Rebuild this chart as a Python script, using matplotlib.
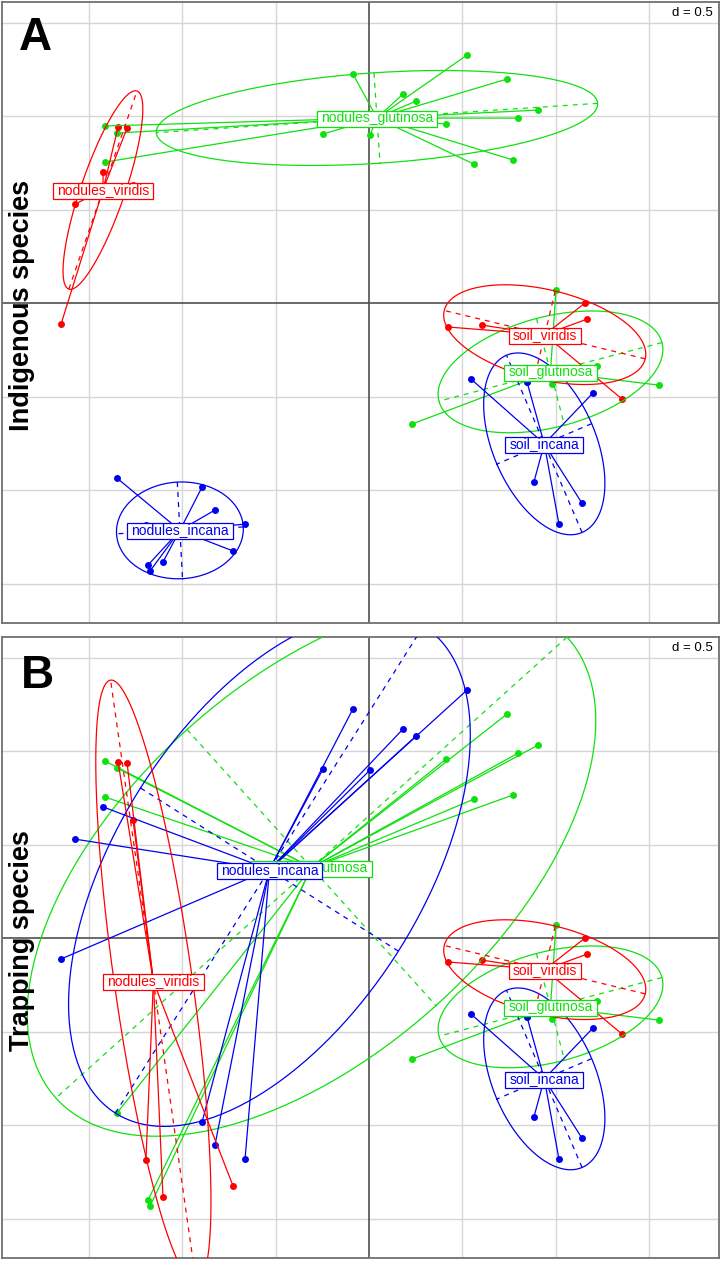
import numpy as np
import matplotlib.pyplot as plt
from matplotlib.patches import Rectangle

plt.rcParams['font.family'] = ['Liberation Sans', 'DejaVu Sans']

# coordenadas de las muestras en los ejes 1 y 2 (las mismas en los dos paneles)
coord_x = [-0.086, 0.524, 0.738, 0.182, 0.251, 0.904, 0.797, 0.412, -0.246, 0.005,
           0.561, 0.770, -1.412, -1.348, -1.412,
           -1.342, -1.294, -1.422, -1.572, -1.647, -1.262,
           -1.348, -0.893, -0.824, -0.663, -0.727, -1.102, -1.182, -1.171, -1.193,
           0.422, 0.604, 1.155, 1.166, 1.353,
           1.000, 0.230, 1.551, 0.845, 0.979, 1.219,
           0.545, 1.198, 0.882, 1.139, 1.016, 0.845]
coord_y = [1.225, 1.326, 1.198, 1.118, 1.080, 1.032, 0.989, 0.957, 0.904, 0.898,
           0.743, 0.765, 0.947, 0.909, 0.754,
           0.941, 0.936, 0.701, 0.529, -0.112, 0.631,
           -0.936, -0.984, -1.107, -1.182, -1.326, -1.385, -1.401, -1.433, -1.187,
           -0.128, -0.118, 0.000, -0.086, -0.513,
           0.070, -0.647, -0.439, -0.422, -0.433, -0.337,
           -0.406, -0.481, -0.957, -1.070, -1.182, -0.422]

# grupo de cada muestra: especie indigena (A) y especie trampa (B)
grupos_a = ['NG'] * 15 + ['NV'] * 6 + ['NI'] * 9 + ['SV'] * 5 + ['SG'] * 6 + ['SI'] * 6
grupos_b = ['NI', 'NI', 'NG', 'NI', 'NI', 'NG', 'NG', 'NG', 'NI', 'NI',
            'NG', 'NG', 'NG', 'NG', 'NG',
            'NV', 'NV', 'NI', 'NI', 'NI', 'NV',
            'NG', 'NI', 'NI', 'NI', 'NV', 'NV', 'NG', 'NG', 'NV'] \
    + ['SV'] * 5 + ['SG'] * 6 + ['SI'] * 6

niveles = ['NG', 'NI', 'NV', 'SG', 'SI', 'SV']
nombres = {'NG': 'nodules_glutinosa', 'NI': 'nodules_incana', 'NV': 'nodules_viridis',
           'SG': 'soil_glutinosa', 'SI': 'soil_incana', 'SV': 'soil_viridis'}
colores = {'NG': '#10E010', 'NI': '#0000EE', 'NV': '#FF0000',
           'SG': '#10E010', 'SI': '#0000EE', 'SV': '#FF0000'}

W, H = 721, 1261
XLIM = (-1.963, 1.872)
YLIM = (-1.711, 1.610)


def s_class(ax, grupos):
    x = np.array(coord_x)
    y = np.array(coord_y)
    g = np.array(grupos)
    ax.set_xlim(XLIM)
    ax.set_ylim(YLIM)
    ax.set_xticks([])
    ax.set_yticks([])
    for sp in ax.spines.values():
        sp.set_color('#707070')
        sp.set_linewidth(1.3)
    for v in [-1.5, -1.0, -0.5, 0.5, 1.0, 1.5]:
        ax.axvline(v, color='#d6d6d6', lw=1, zorder=0)
        ax.axhline(v, color='#d6d6d6', lw=1, zorder=0)
    ax.axvline(0, color='#505050', lw=1.2, zorder=1)
    ax.axhline(0, color='#505050', lw=1.2, zorder=1)

    centros = []
    for niv in niveles:
        col = colores[niv]
        m = g == niv
        px, py = x[m], y[m]
        cx, cy = px.mean(), py.mean()
        ax.plot(px, py, 'o', ms=5, color=col, mec='none', zorder=3)
        for a, b in zip(px, py):
            ax.plot([cx, a], [cy, b], color=col, lw=0.9, zorder=4)
        # elipse de inercia (cellipse = 1.5)
        val, vec = np.linalg.eigh(np.cov(px, py, bias=True))
        semi = 1.5 * np.sqrt(np.clip(val, 0, None))
        t = np.linspace(0, 2 * np.pi, 300)
        ex = cx + semi[0] * np.cos(t) * vec[0, 0] + semi[1] * np.sin(t) * vec[0, 1]
        ey = cy + semi[0] * np.cos(t) * vec[1, 0] + semi[1] * np.sin(t) * vec[1, 1]
        ax.plot(ex, ey, color=col, lw=0.9, zorder=4)
        for k in range(2):
            ax.plot([cx - semi[k] * vec[0, k], cx + semi[k] * vec[0, k]],
                    [cy - semi[k] * vec[1, k], cy + semi[k] * vec[1, k]],
                    color=col, lw=0.9, ls=(0, (4, 4)), zorder=4)
        centros.append((niv, cx, cy))

    ax.text(0.9916, 0.983, 'd = 0.5', transform=ax.transAxes, ha='right', va='center',
            fontsize=9.5, zorder=30,
            bbox=dict(boxstyle='square,pad=0.1', fc='white', ec='none'))
    return centros


def etiquetas(fig, ax, centros):
    r = fig.canvas.get_renderer()
    inv = ax.transData.inverted()
    for i, (niv, cx, cy) in enumerate(centros):
        col = colores[niv]
        t = ax.text(cx, cy, nombres[niv], ha='center', va='center', fontsize=10,
                    color=col, zorder=11 + 2 * i)
        bb = t.get_window_extent(renderer=r)
        x0, y0 = inv.transform((bb.x0 - 4, bb.y0 - 2))
        x1, y1 = inv.transform((bb.x1 + 4, bb.y1))
        ax.add_patch(Rectangle((x0, y0), x1 - x0, y1 - y0, fc='white', ec=col,
                               lw=0.9, zorder=10 + 2 * i))


fig = plt.figure(figsize=(W / 100, H / 100), dpi=100)
ax_a = fig.add_axes([2 / W, (H - 623) / H, 717 / W, 621 / H])
ax_b = fig.add_axes([2 / W, (H - 1258) / H, 717 / W, 621 / H])

cen_a = s_class(ax_a, grupos_a)
cen_b = s_class(ax_b, grupos_b)
etiquetas(fig, ax_a, cen_a)
etiquetas(fig, ax_b, cen_b)

fig.text(19 / W, 1 - 50 / H, 'A', fontsize=33, fontweight='bold', ha='left', va='baseline')
fig.text(21 / W, 1 - 688 / H, 'B', fontsize=33, fontweight='bold', ha='left', va='baseline')
fig.text(22 / W, 1 - 305 / H, 'Indigenous species', rotation=90, ha='center', va='center',
         fontsize=19.5, fontweight='bold')
fig.text(22 / W, 1 - 941 / H, 'Trapping species', rotation=90, ha='center', va='center',
         fontsize=19.5, fontweight='bold')

fig.savefig('out.png', dpi=100)
